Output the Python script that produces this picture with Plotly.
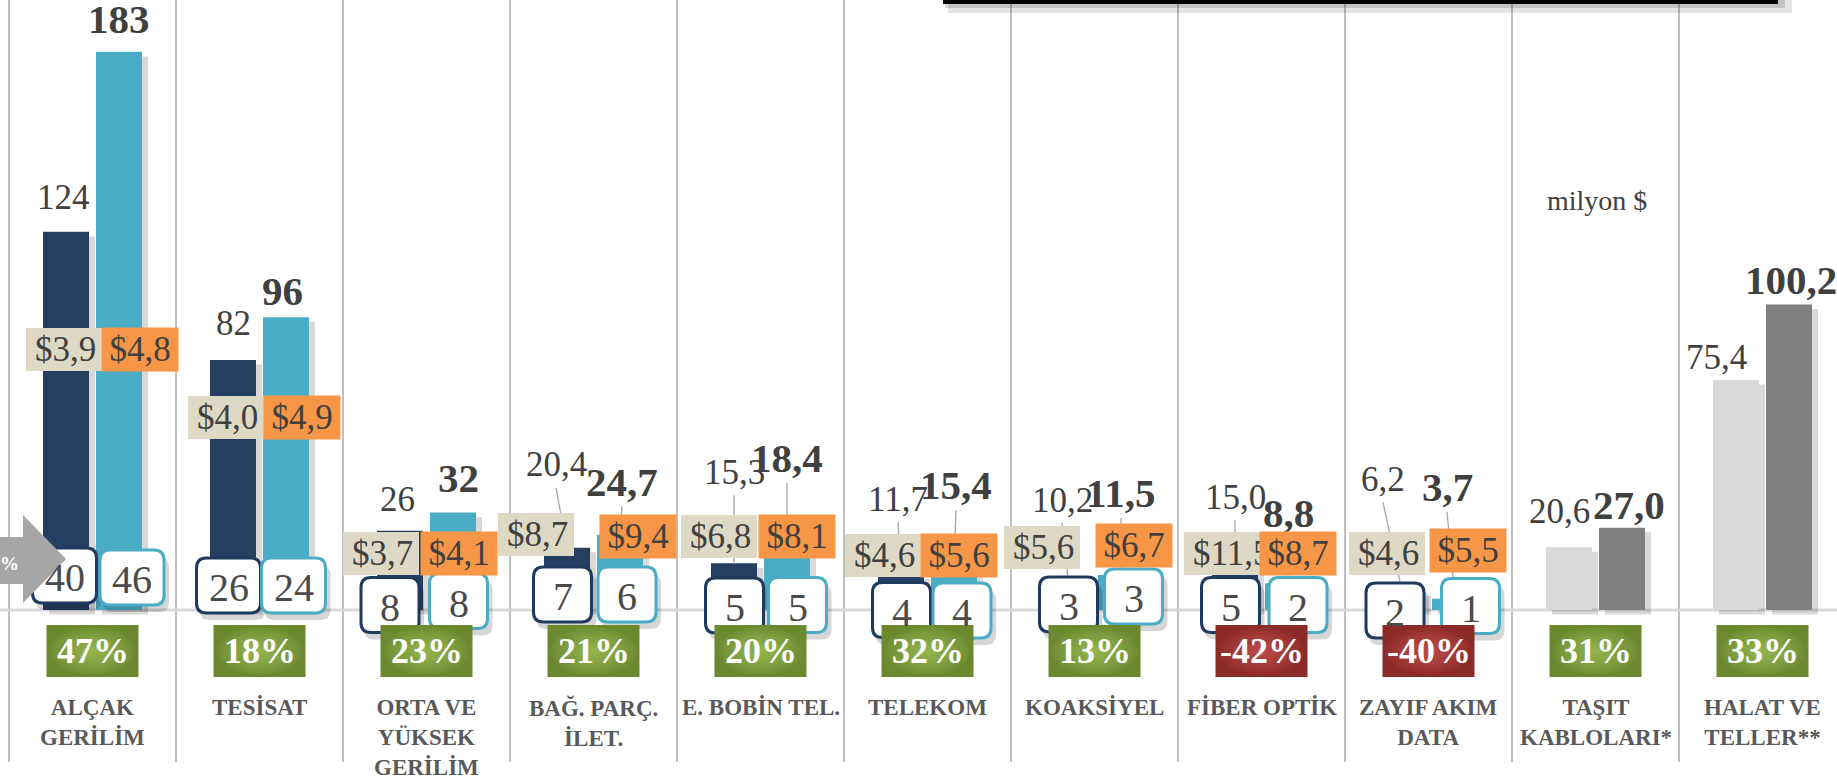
import plotly.graph_objects as go

# ---- data ----
categories = ["ALÇAK<br>GERİLİM", "TESİSAT", "ORTA VE<br>YÜKSEK<br>GERİLİM", "BAĞ. PARÇ.<br>İLET.",
              "E. BOBİN TEL.", "TELEKOM", "KOAKSİYEL", "FİBER OPTİK", "ZAYIF AKIM<br>DATA",
              "TAŞIT<br>KABLOLARI*", "HALAT VE<br>TELLER**"]
exports_2013 = [124, 82, 26, 20.4, 15.3, 11.7, 10.2, 15.0, 6.2, 20.6, 75.4]
exports_2014 = [183, 96, 32, 24.7, 18.4, 15.4, 11.5, 8.8, 3.7, 27.0, 100.2]
change_pct = [47, 18, 23, 21, 20, 32, 13, -42, -40, 31, 33]
label_decimals = [0, 0, 0, 1, 1, 1, 1, 1, 1, 1, 1]
firms_2013 = [40, 26, 8, 7, 5, 4, 3, 5, 2]
firms_2014 = [46, 24, 8, 6, 5, 4, 3, 2, 1]
unit_price_2013 = [3.9, 4.0, 3.7, 8.7, 6.8, 4.6, 5.6, 11.5, 4.6]
unit_price_2014 = [4.8, 4.9, 4.1, 9.4, 8.1, 5.6, 6.7, 8.7, 5.5]

# ---- layout helpers (pixels) ----
W, H = 1837, 778
X0, CW = 9, 167          # first separator, category width
BASE, PPU = 610, 3.05    # baseline pixel, pixels per unit


def xd(px):
    return (px - X0) / CW - 0.5


def yd(py):
    return (BASE - py) / PPU


def cx(i):
    return X0 + CW * (i + 0.5)


SERIF = "Liberation Serif, Times New Roman, serif"
TXT = "#404040"
BAR_W = 46
OFF_A, OFF_B = -49.5, 3.5

col_a = ["#243F60"] * 9 + ["#D9D9D9"] * 2
col_b = ["#4BACC6"] * 9 + ["#7F7F7F"] * 2

# label placement (px above bar top, px shift)
lift_a = [22, 24, 18, 70, 78, 62, 66, 54, 99, 23, 10]
lift_b = [18, 11, 19, 38, 81, 63, 67, 55, 97, 8, 9]
ldx_a = [-3, 0, -3, -11, 0, -3, -6, 0, -19, -10, -20]
ldx_b = [0, -4, 5, 2, 0, 2, 0, 0, -8, 7, 2]
leader = [False, False, False, True, True, True, True, True, True, False, False]

# price boxes
pdx_a = [-66.5, -71.5, -83.5, -95.5, -79.5, -82.5, -90.5, -77.5, -79.5]
pdx_b = [9.5, 4.5, -5.5, 6.5, -1.5, -6.5, 1.5, -1.5, 1.5]
ptop_a = [328, 396, 532, 513, 515, 534, 526, 532, 532]
ptop_b = [328, 396, 532, 515, 515, 534, 524, 532, 529]

# firm count boxes
bdx_a = [-28, -31, -36.5, -31, -26, -26, -26, -31, -33.5]
bdx_b = [39.5, 34, 32, 33.5, 37, 34.5, 39, 36.5, 42]
bcy_a = [575.5, 585.5, 605, 594.5, 605.5, 610, 604.5, 605, 610.5]
bcy_b = [577.5, 585.5, 601, 594.5, 605, 610.5, 596.5, 605, 606]

idx = list(range(len(categories)))

fig = go.Figure()

# soft bar shadows
for vals, off in [(exports_2013, OFF_A), (exports_2014, OFF_B)]:
    fig.add_trace(go.Bar(x=idx, y=vals, base=-1.5, width=BAR_W / CW, offset=(off + 6) / CW,
                         marker=dict(color="rgba(0,0,0,0.15)", line_width=0), hoverinfo="skip"))
fig.add_trace(go.Bar(x=idx, y=exports_2013, width=BAR_W / CW, offset=OFF_A / CW, name="2013",
                     marker=dict(color=col_a, line_width=0)))
fig.add_trace(go.Bar(x=idx, y=exports_2014, width=BAR_W / CW, offset=OFF_B / CW, name="2014",
                     marker=dict(color=col_b, line_width=0)))

shapes = []
ann = []

# separators and baseline
for k in range(len(categories) + 1):
    shapes.append(dict(type="line", layer="below", x0=xd(X0 + CW * k), x1=xd(X0 + CW * k),
                       y0=yd(0), y1=yd(762), line=dict(color="#BFBFBF", width=2)))
shapes.append(dict(type="line", layer="below", x0=xd(0), x1=xd(W), y0=0, y1=0,
                   line=dict(color="#D9D9D9", width=3)))

# top black box edge
shapes.append(dict(type="rect", layer="above", x0=xd(948), x1=xd(1792), y0=yd(13), y1=yd(-20),
                   fillcolor="rgba(0,0,0,0.10)", line_width=0))
shapes.append(dict(type="rect", layer="above", x0=xd(945), x1=xd(1785), y0=yd(8), y1=yd(-20),
                   fillcolor="rgba(0,0,0,0.15)", line_width=0))
shapes.append(dict(type="rect", layer="above", x0=xd(943), x1=xd(1778), y0=yd(4), y1=yd(-20),
                   fillcolor="#000000", line_width=0))


def fmt(v, d):
    return (f"{v:.{d}f}").replace(".", ",")


# value labels + leader lines
for i in idx:
    for vals, off, lift, ldx, bold in [(exports_2013, OFF_A, lift_a, ldx_a, False),
                                       (exports_2014, OFF_B, lift_b, ldx_b, True)]:
        bar_cx = cx(i) + off + BAR_W / 2
        top = BASE - vals[i] * PPU
        baseline = top - lift[i]
        fs = 41 if bold else 35
        tx = bar_cx + ldx[i]
        if leader[i]:
            shapes.append(dict(type="line", layer="above", x0=xd(tx), y0=yd(baseline + 10),
                               x1=xd(bar_cx), y1=yd(top), line=dict(color="#A6A6A6", width=1.3)))
        txt = fmt(vals[i], label_decimals[i])
        if bold:
            txt = "<b>" + txt + "</b>"
        ann.append(dict(x=xd(tx), y=yd(baseline + 0.22 * fs + 1), xanchor="center", yanchor="bottom",
                        text=txt, showarrow=False, font=dict(family=SERIF, size=fs, color=TXT)))


def rrect(x0, y0, x1, y1, r):
    rx, ry = r / CW, r / PPU
    a0, a1, b0, b1 = xd(x0), xd(x1), yd(y1), yd(y0)
    return (f"M {a0 + rx},{b0} L {a1 - rx},{b0} Q {a1},{b0} {a1},{b0 + ry} "
            f"L {a1},{b1 - ry} Q {a1},{b1} {a1 - rx},{b1} L {a0 + rx},{b1} "
            f"Q {a0},{b1} {a0},{b1 - ry} L {a0},{b0 + ry} Q {a0},{b0} {a0 + rx},{b0} Z")


# firm count boxes
for i in range(len(firms_2013)):
    for n, dx, cy, edge in [(firms_2013[i], bdx_a[i], bcy_a[i], "#1F3A5F"),
                            (firms_2014[i], bdx_b[i], bcy_b[i], "#4BACC6")]:
        bw = 64 if n >= 10 else 58
        bx = cx(i) + dx
        shapes.append(dict(type="path", layer="above",
                           path=rrect(bx - bw / 2 + 3, cy - 27.5 + 7, bx + bw / 2 + 5, cy + 27.5 + 7, 10),
                           fillcolor="rgba(0,0,0,0.16)", line_width=0))
        shapes.append(dict(type="path", layer="above",
                           path=rrect(bx - bw / 2, cy - 27.5, bx + bw / 2, cy + 27.5, 10),
                           fillcolor="#FFFFFF", line=dict(color=edge, width=3)))
        ann.append(dict(x=xd(bx), y=yd(cy + 2), text=str(n), showarrow=False,
                        font=dict(family=SERIF, size=40, color="#4A4A4A")))

# left gray arrow
arrow = [(0, 537), (23, 537), (23, 515), (66, 559), (23, 603), (23, 584), (0, 584)]
shapes.append(dict(type="path", layer="above", fillcolor="#A6A6A6", line_width=0,
                   path="M " + " L ".join(f"{xd(p[0])},{yd(p[1])}" for p in arrow) + " Z"))
ann.append(dict(x=xd(9), y=yd(563), text="<b>%</b>", showarrow=False,
                font=dict(family=SERIF, size=19, color="#FFFFFF")))


def mix(c0, c1, t):
    a = [int(c0[k:k + 2], 16) for k in (1, 3, 5)]
    b = [int(c1[k:k + 2], 16) for k in (1, 3, 5)]
    return "#" + "".join(f"{round(p + (q - p) * t):02X}" for p, q in zip(a, b))


# change percentage badges (radial-ish gradient)
for i in idx:
    edge, mid = ("#6C8930", "#92B44E") if change_pct[i] >= 0 else ("#8A2B29", "#BA4A47")
    x0, x1, y0, y1 = cx(i) - 46, cx(i) + 46, 625, 677
    shapes.append(dict(type="rect", layer="above", x0=xd(x0), x1=xd(x1), y0=yd(y1), y1=yd(y0),
                       fillcolor=edge, line_width=0))
    steps = 12
    for s in range(steps):
        t = (s + 1) / steps
        k = 1.0 - 0.92 * t
        hx, hy = 46 * k, 26 * k
        shapes.append(dict(type="circle", layer="above", x0=xd(cx(i) - hx), x1=xd(cx(i) + hx),
                           y0=yd(651 + hy), y1=yd(651 - hy), fillcolor=mix(edge, mid, t ** 0.8),
                           line_width=0))
    ann.append(dict(x=i, y=yd(651), showarrow=False, text=f"<b>{change_pct[i]}%</b>",
                    font=dict(family=SERIF, size=36, color="#FFFFFF")))

# unit price boxes: beige box + left text, orange box on top
for i in range(len(unit_price_2013)):
    bl = cx(i) + pdx_a[i]
    shapes.append(dict(type="rect", layer="above", x0=xd(bl), x1=xd(bl + 76),
                       y0=yd(ptop_a[i] + 43), y1=yd(ptop_a[i]), fillcolor="#DDD9C4", line_width=0))
    ann.append(dict(x=xd(bl + 7), y=yd(ptop_a[i] + 21.5), xanchor="left", showarrow=False,
                    text="$" + fmt(unit_price_2013[i], 1), font=dict(family=SERIF, size=35, color=TXT)))
for i in range(len(unit_price_2014)):
    ol = cx(i) + pdx_b[i]
    ann.append(dict(x=xd(ol + 38), y=yd(ptop_b[i] + 21.5), showarrow=False, width=74, height=41,
                    borderpad=1, bgcolor="#F79646",
                    text="$" + fmt(unit_price_2014[i], 1), font=dict(family=SERIF, size=35, color=TXT)))

# category names
for i in idx:
    ann.append(dict(x=i, y=yd(693), yanchor="top", showarrow=False, text=f"<b>{categories[i]}</b>",
                    font=dict(family=SERIF, size=23, color="#595959")))

ann.append(dict(x=xd(1597), y=yd(200), showarrow=False, text="milyon $",
                font=dict(family=SERIF, size=28, color=TXT)))

fig.update_layout(
    width=W, height=H, margin=dict(l=0, r=0, t=0, b=0),
    paper_bgcolor="white", plot_bgcolor="white",
    barmode="overlay", showlegend=False,
    xaxis=dict(range=[xd(0), xd(W)], visible=False, fixedrange=True),
    yaxis=dict(range=[yd(H), yd(0)], visible=False, fixedrange=True),
    shapes=shapes, annotations=ann,
)

fig.write_html("out.html", config={"displayModeBar": False},
               post_script="document.body.style.margin='0';document.body.style.overflow='hidden';")
